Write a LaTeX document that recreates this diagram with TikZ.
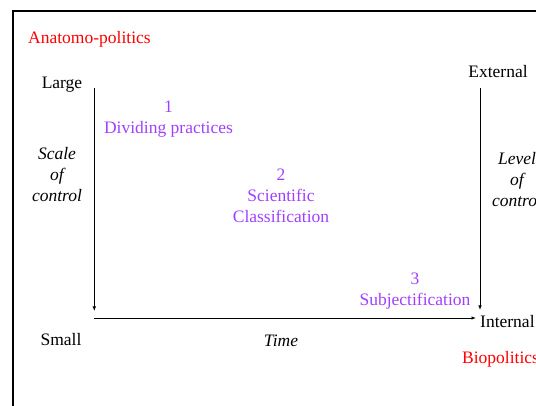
\documentclass[tikz,border=0pt]{standalone}
\usepackage{fontspec}
\setmainfont{Liberation Serif}
\newfontfamily\tmsfont{Liberation Serif}
\usetikzlibrary{arrows.meta}
\definecolor{labred}{RGB}{255,0,0}
\definecolor{phase}{RGB}{160,64,255}
\tikzset{
  txt/.style={inner sep=0pt, anchor=base, font=\tmsfont\fontsize{17.5}{21}\selectfont},
  ital/.style={txt, font=\tmsfont\fontsize{17.5}{21}\selectfont\itshape, align=center},
  phasetxt/.style={txt, text=phase, align=center},
  redtxt/.style={txt, text=labred},
  axis/.style={line width=0.8pt, -{Latex[length=4.5pt,width=3.5pt]}},
}
\begin{document}
\begin{tikzpicture}[x=1pt,y=-1pt]
\useasboundingbox (0,0) rectangle (536,406);
\clip (0,0) rectangle (536,406);
\draw[line width=2.3pt] (12.8,10.7) rectangle (700,600);

\node[redtxt, anchor=base west] (anat) at (28,44) {Anatomo-politics};
\node[txt] (large) at (62,88.5) {Large};
\node[txt] (small) at (61,345) {Small};
\node[txt] (ext) at (498,77.5) {External};
\node[txt, anchor=base west] (int) at (480,328) {Internal};
\node[redtxt, anchor=base west] (bio) at (462,363) {Biopolitics};
\node[ital, anchor=base] (time) at (281,347) {Time};

\node[ital, anchor=north] (scale) at (57,147) {Scale\\of\\control};
\node[ital, anchor=north] (level) at (517,152) {Level\\of\\control};

\node[phasetxt, anchor=north] (p1) at (168.5,101) {1\\Dividing practices};
\node[phasetxt, anchor=north] (p2) at (281,168.5) {2\\Scientific\\Classification};
\node[phasetxt, anchor=north] (p3) at (415,273) {3\\Subjectification};

\coordinate (ltop) at (94.3,88);
\coordinate (lbot) at (94.3,311);
\coordinate (rtop) at (480,88);
\coordinate (rbot) at (480,310);
\coordinate (hstart) at (94.3,318);
\coordinate (hend) at (476,318);

\draw[axis] (ltop) -- (lbot);
\draw[axis] (rtop) -- (rbot);
\draw[axis] (hstart) -- (hend);
\end{tikzpicture}
\end{document}
